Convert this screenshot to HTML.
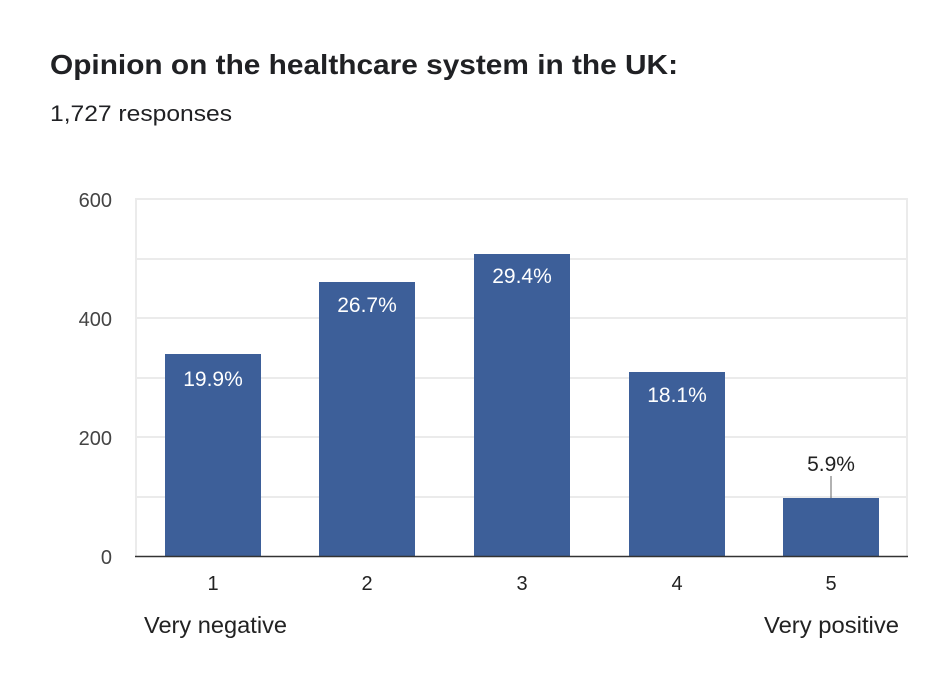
<!DOCTYPE html>
<html><head><style>
body{margin:0;background:#fff;}
svg{display:block;font-family:"Liberation Sans",Arial,sans-serif;}
</style></head><body>
<svg width="950" height="681" viewBox="0 0 950 681">
<rect width="950" height="681" fill="#fff"/>
<text x="50" y="74" font-size="28" font-weight="bold" fill="#202124" textLength="628" lengthAdjust="spacingAndGlyphs">Opinion on the healthcare system in the UK:</text>
<text x="50" y="121" font-size="22" fill="#202124" textLength="182" lengthAdjust="spacingAndGlyphs">1,727 responses</text>
<g stroke="#ebebeb" stroke-width="2">
<line x1="135" y1="199" x2="908" y2="199"/>
<line x1="135" y1="259" x2="908" y2="259"/>
<line x1="135" y1="318" x2="908" y2="318"/>
<line x1="135" y1="378" x2="908" y2="378"/>
<line x1="135" y1="437" x2="908" y2="437"/>
<line x1="135" y1="497" x2="908" y2="497"/>
<line x1="136" y1="199" x2="136" y2="556"/>
<line x1="907" y1="199" x2="907" y2="556"/>
</g>
<g font-size="20" fill="#444" text-anchor="end">
<text x="112" y="207">600</text>
<text x="112" y="326">400</text>
<text x="112" y="445">200</text>
<text x="112" y="564">0</text>
</g>
<g fill="#3d5f99">
<rect x="165" y="354" width="96" height="202"/>
<rect x="319" y="282" width="96" height="274"/>
<rect x="474" y="254" width="96" height="302"/>
<rect x="629" y="372" width="96" height="184"/>
<rect x="783" y="498" width="96" height="58"/>
</g>
<line x1="135" y1="556.5" x2="908" y2="556.5" stroke="#333" stroke-width="1.5"/>
<line x1="831" y1="476" x2="831" y2="498" stroke="#666" stroke-width="1"/>
<g font-size="21" fill="#fff" text-anchor="middle">
<text x="213" y="386">19.9%</text>
<text x="367" y="312">26.7%</text>
<text x="522" y="283">29.4%</text>
<text x="677" y="402">18.1%</text>
</g>
<text x="831" y="471" font-size="21" fill="#222" text-anchor="middle">5.9%</text>
<g font-size="20" fill="#222" text-anchor="middle">
<text x="213" y="590">1</text>
<text x="367" y="590">2</text>
<text x="522" y="590">3</text>
<text x="677" y="590">4</text>
<text x="831" y="590">5</text>
</g>
<text x="144" y="633" font-size="23" fill="#222" textLength="143" lengthAdjust="spacingAndGlyphs">Very negative</text>
<text x="764" y="633" font-size="23" fill="#222" textLength="135" lengthAdjust="spacingAndGlyphs">Very positive</text>
</svg>
</body></html>
